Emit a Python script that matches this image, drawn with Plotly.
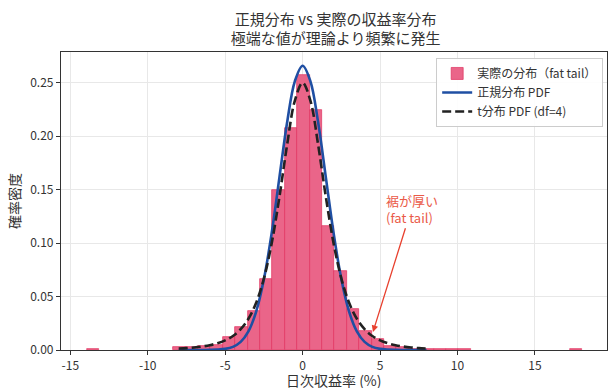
import plotly.graph_objects as go

# Histogram (density): bin centers and heights
bin_centers = [-13.55, -7.95, -7.15, -6.35, -5.55, -4.75, -3.95, -3.15, -2.35, -1.55,
               -0.75, 0.05, 0.85, 1.65, 2.45, 3.25, 4.05, 4.85, 5.65, 6.45,
               7.25, 8.05, 8.85, 9.65, 10.45, 17.65]
bin_density = [0.00125, 0.0025, 0.0025, 0.00375, 0.005, 0.0125, 0.02125, 0.03625, 0.06625, 0.15,
               0.2075, 0.2575, 0.225, 0.11625, 0.07375, 0.03875, 0.0175, 0.01, 0.00375, 0.0025,
               0.00125, 0.00125, 0.00125, 0.00125, 0.00125, 0.00125]
bin_width = 0.8

# Curves
curve_x = [-8.0, -7.5, -7.0, -6.5, -6.0, -5.5, -5.0, -4.5, -4.0, -3.5, -3.0, -2.5, -2.0, -1.5, -1.0, -0.5,
           0.0, 0.5, 1.0, 1.5, 2.0, 2.5, 3.0, 3.5, 4.0, 4.5, 5.0, 5.5, 6.0, 6.5, 7.0, 7.5, 8.0]
normal_pdf = [0.0, 0.0, 0.000005, 0.000022, 0.000089, 0.00032, 0.00103, 0.00296, 0.0076, 0.01748,
              0.036, 0.0663, 0.1093, 0.1613, 0.213, 0.2516,
              0.266, 0.2516, 0.213, 0.1613, 0.1093, 0.0663, 0.036, 0.01748,
              0.0076, 0.00296, 0.00103, 0.00032, 0.000089, 0.000022, 0.000005, 0.0, 0.0]
t_pdf = [0.00134, 0.00177, 0.00237, 0.00323, 0.00447, 0.0063, 0.00901, 0.01313, 0.01944, 0.0292,
         0.0442, 0.0669, 0.0997, 0.1431, 0.1921, 0.2334,
         0.25, 0.2334, 0.1921, 0.1431, 0.0997, 0.0669, 0.0442, 0.0292,
         0.01944, 0.01313, 0.00901, 0.0063, 0.00447, 0.00323, 0.00237, 0.00177, 0.00134]

x_ticks = [-15, -10, -5, 0, 5, 10, 15]
x_tick_labels = ["-15", "-10", "-5", "0", "5", "10", "15"]
y_ticks = [0.0, 0.05, 0.10, 0.15, 0.20, 0.25]
y_tick_labels = ["0.00", "0.05", "0.10", "0.15", "0.20", "0.25"]

FONT = "Noto Sans CJK JP"
ANNO_RED = "#e8402e"

fig = go.Figure()
fig.add_trace(go.Bar(
    x=bin_centers, y=bin_density, width=bin_width,
    marker=dict(color="#ea6589", line=dict(color="#e0305f", width=0.7)),
    name="実際の分布（fat tail）",
))
fig.add_trace(go.Scatter(
    x=curve_x, y=normal_pdf, mode="lines", line=dict(color="#1f4fa3", width=2.6, shape="spline"),
    name="正規分布 PDF",
))
fig.add_trace(go.Scatter(
    x=curve_x, y=t_pdf, mode="lines",
    line=dict(color="#222222", width=2.6, dash="9px,4px", shape="spline"),
    name="t分布 PDF (df=4)",
))

# label with arrow pointing at the tail
fig.add_annotation(
    x=4.54, y=0.0168, xref="x", yref="y",
    ax=7.03, ay=0.1322, axref="x", ayref="y",
    text="裾が厚い<br>(fat tail)", showarrow=True,
    arrowhead=2, arrowsize=1, arrowwidth=1.3, arrowcolor=ANNO_RED,
    font=dict(family=FONT, size=13, color="#ea5a48"), align="left",
)
# x-axis title placed as paper annotation
fig.add_annotation(
    x=0.5, y=-0.101, xref="paper", yref="paper", xanchor="center", yanchor="middle",
    text="日次収益率 (%)", showarrow=False,
    font=dict(family=FONT, size=14, color="#333333"),
)

fig.update_layout(
    width=608, height=388,
    margin=dict(l=61, r=1, t=52, b=38),
    paper_bgcolor="white", plot_bgcolor="white",
    font=dict(family=FONT, size=12, color="#333333"),
    title=dict(text="正規分布 vs 実際の収益率分布<br>極端な値が理論より頻繁に発生",
               x=0.552, xanchor="center", y=0.936, yanchor="top",
               font=dict(family=FONT, size=15, color="#333333")),
    bargap=0,
    showlegend=True,
    legend=dict(x=0.993, xanchor="right", y=0.98, yanchor="top",
                bgcolor="rgba(255,255,255,0.9)", bordercolor="#cccccc", borderwidth=1,
                font=dict(family=FONT, size=12, color="#333333"),
                tracegroupgap=0, itemwidth=30),
)
fig.update_xaxes(
    range=[-15.6, 19.65], tickvals=x_ticks, ticktext=x_tick_labels,
    showgrid=True, gridcolor="#e8e8e8", gridwidth=1, zeroline=False,
    showline=True, linecolor="#333333", linewidth=1.2, mirror=True,
    ticks="outside", ticklen=4, tickcolor="#333333", automargin=False,
)
fig.update_yaxes(
    range=[0, 0.2788], tickvals=y_ticks, ticktext=y_tick_labels,
    showgrid=True, gridcolor="#e8e8e8", gridwidth=1, zeroline=False,
    showline=True, linecolor="#333333", linewidth=1.2, mirror=True,
    ticks="outside", ticklen=4, tickcolor="#333333", automargin=False,
    title=dict(text="確率密度", font=dict(family=FONT, size=14, color="#333333"), standoff=6),
)

fig.write_html("out.html", config={"displayModeBar": False},
               post_script="document.body.style.margin='0';")
